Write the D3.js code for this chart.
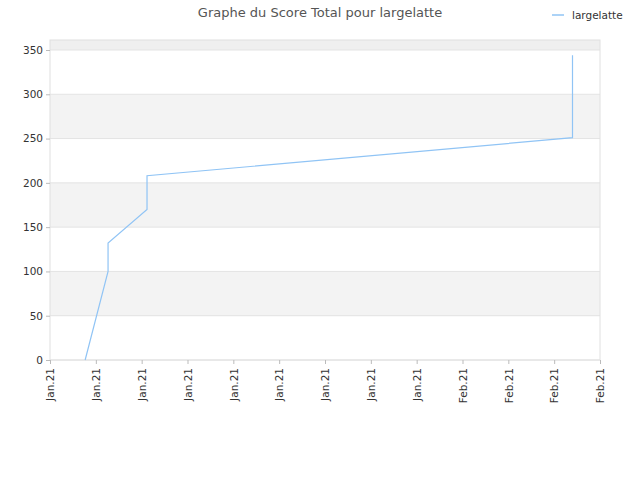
<!DOCTYPE html>
<meta charset='utf-8'>
<head>
    <title>Score Total</title>
    <script src='https://cdn.jsdelivr.net/npm/d3@7'></script>
</head>
<style>
    body { margin: 0; }
    text { font-family: 'DejaVu Sans', sans-serif; }
</style>
<svg></svg>
<script>
    // days since Jan 7 2021
    var vDays = [2.3, 3.8, 3.8, 6.35, 6.35, 34.2, 34.2];
    var vScores = [0, 100, 132, 170, 208, 251, 344];
    var vTickLabels = ['Jan.21','Jan.21','Jan.21','Jan.21','Jan.21','Jan.21','Jan.21','Jan.21','Jan.21','Feb.21','Feb.21','Feb.21','Feb.21'];
    var vBands = [0, 50, 100, 150, 200, 250, 300, 350];

    var svg = d3.select('svg').attr('width', 640).attr('height', 480);
    var x = d3.scaleLinear().domain([0, 36]).range([50, 600]);
    var y = d3.scaleLinear().domain([0, 350]).range([360, 50]);

    // bands
    vBands.forEach(function (b, i) {
        var top = i === vBands.length - 1 ? 40 : y(b + 50);
        svg.append('rect').attr('x', 50).attr('width', 550)
            .attr('y', top).attr('height', y(b) - top)
            .attr('fill', i % 2 ? '#f3f3f3' : '#ffffff');
    });
    svg.select('rect:last-of-type').attr('fill', '#efefef');
    vBands.forEach(function (b) {
        svg.append('line').attr('x1', 50).attr('x2', 600).attr('y1', y(b)).attr('y2', y(b))
            .attr('stroke', '#e3e3e3');
    });
    svg.append('rect').attr('x', 50).attr('y', 40).attr('width', 550).attr('height', 320)
        .attr('fill', 'none').attr('stroke', '#e0e0e0');

    // axes
    var ya = svg.append('g').attr('transform', 'translate(50,0)')
        .call(d3.axisLeft(y).tickValues(vBands).tickSize(4));
    ya.select('.domain').remove();
    ya.selectAll('line').attr('stroke', '#bbb');
    ya.selectAll('text').attr('font-size', 10.5).attr('fill', '#333');

    var xa = svg.append('g').attr('transform', 'translate(0,360)')
        .call(d3.axisBottom(x).tickValues(d3.range(0, 37, 3)).tickSize(4)
            .tickFormat(function (d, i) { return vTickLabels[i]; }));
    xa.select('.domain').remove();
    xa.selectAll('line').attr('stroke', '#bbb');
    xa.selectAll('text').attr('font-size', 10.5).attr('fill', '#333')
        .attr('transform', 'rotate(-90)').attr('text-anchor', 'end')
        .attr('x', -8).attr('y', 0).attr('dy', '0.35em');

    // line
    svg.append('path').datum(d3.zip(vDays, vScores))
        .attr('d', d3.line().x(function (d) { return x(d[0]); }).y(function (d) { return y(d[1]); }))
        .attr('fill', 'none').attr('stroke', '#90c4f5').attr('stroke-width', 1.2);

    // title & legend
    svg.append('text').attr('x', 320).attr('y', 17).attr('text-anchor', 'middle')
        .attr('font-size', 13).attr('fill', '#555').text('Graphe du Score Total pour largelatte');
    svg.append('line').attr('x1', 552).attr('x2', 564).attr('y1', 15).attr('y2', 15)
        .attr('stroke', '#90c4f5').attr('stroke-width', 1.5);
    svg.append('text').attr('x', 572).attr('y', 19).attr('font-size', 10.5).attr('fill', '#333').text('largelatte');
</script>
